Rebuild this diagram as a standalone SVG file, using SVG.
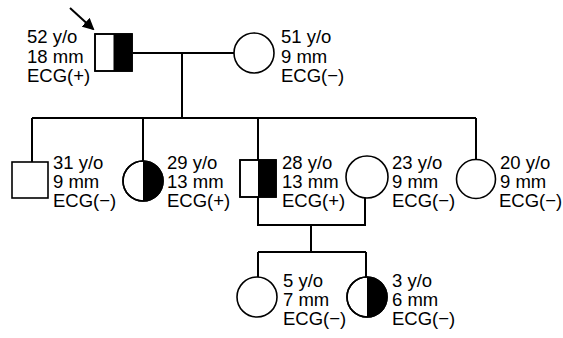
<svg xmlns="http://www.w3.org/2000/svg" width="563" height="338" viewBox="0 0 563 338">
<defs>
<style>
.ln{stroke:#000;stroke-width:2;fill:none}
.sym{stroke:#000;stroke-width:1.6;fill:#fff}
.half{fill:#000;stroke:none}
text{font-family:"Liberation Sans",Arial,sans-serif;font-size:18.5px;fill:#000}
</style>
<marker id="ah" markerWidth="12" markerHeight="12" refX="10" refY="6" orient="auto" markerUnits="userSpaceOnUse">
<path d="M0,0 L12,6 L0,12 z" fill="#000"/>
</marker>
</defs>
<g id="connectors">
<path class="ln" d="M133,53 H234"/>
<path class="ln" d="M182,53 V118"/>
<path class="ln" d="M32,118 H476"/>
<path class="ln" d="M32,118 V162"/>
<path class="ln" d="M143,118 V161"/>
<path class="ln" d="M258,118 V160"/>
<path class="ln" d="M476,118 V160"/>
<path class="ln" d="M258,197 V225 H365 V198"/>
<path class="ln" d="M311,225 V252"/>
<path class="ln" d="M258,252 H366"/>
<path class="ln" d="M258,252 V277"/>
<path class="ln" d="M366,252 V277"/>
<path class="ln" d="M70,8 L93,29" marker-end="url(#ah)"/>
</g>
<g id="n52">
<rect class="sym" x="95" y="34" width="37" height="37"/>
<rect class="half" x="113.5" y="34" width="18.5" height="37"/>
<rect x="95" y="34" width="37" height="37" fill="none" stroke="#000" stroke-width="1.6"/>
<text x="27" y="43">52 y/o</text><text x="27" y="62.5">18 mm</text><text x="27" y="82">ECG(+)</text>
</g>
<g id="n51">
<circle class="sym" cx="254" cy="53" r="20"/>
<text x="281" y="43">51 y/o</text><text x="281" y="62.5">9 mm</text><text x="281" y="82">ECG(−)</text>
</g>
<g id="n31">
<rect class="sym" x="12" y="162" width="36" height="36"/>
<text x="53" y="168.5">31 y/o</text><text x="53" y="187.5">9 mm</text><text x="53" y="206.5">ECG(−)</text>
</g>
<g id="n29">
<circle class="sym" cx="143" cy="181" r="20"/>
<path class="half" d="M143,161 A20,20 0 0 1 143,201 Z"/>
<circle cx="143" cy="181" r="20" fill="none" stroke="#000" stroke-width="1.6"/>
<text x="167" y="168.5">29 y/o</text><text x="167" y="187.5">13 mm</text><text x="167" y="206.5">ECG(+)</text>
</g>
<g id="n28">
<rect class="sym" x="240" y="160" width="36" height="37"/>
<rect class="half" x="258" y="160" width="18" height="37"/>
<rect x="240" y="160" width="36" height="37" fill="none" stroke="#000" stroke-width="1.6"/>
<text x="282" y="168.5">28 y/o</text><text x="282" y="187.5">13 mm</text><text x="282" y="206.5">ECG(+)</text>
</g>
<g id="n23">
<circle class="sym" cx="367" cy="177" r="21"/>
<text x="392" y="168.5">23 y/o</text><text x="392" y="187.5">9 mm</text><text x="392" y="206.5">ECG(−)</text>
</g>
<g id="n20">
<circle class="sym" cx="476" cy="179" r="19.5"/>
<text x="500" y="168.5">20 y/o</text><text x="500" y="187.5">9 mm</text><text x="499" y="206.5">ECG(−)</text>
</g>
<g id="n5">
<circle class="sym" cx="257" cy="297" r="20"/>
<text x="283" y="287">5 y/o</text><text x="283" y="306">7 mm</text><text x="283" y="325">ECG(−)</text>
</g>
<g id="n3">
<circle class="sym" cx="367" cy="297" r="20"/>
<path class="half" d="M367,277 A20,20 0 0 1 367,317 Z"/>
<circle cx="367" cy="297" r="20" fill="none" stroke="#000" stroke-width="1.6"/>
<text x="392" y="287">3 y/o</text><text x="392" y="306">6 mm</text><text x="392" y="325">ECG(−)</text>
</g>
</svg>
